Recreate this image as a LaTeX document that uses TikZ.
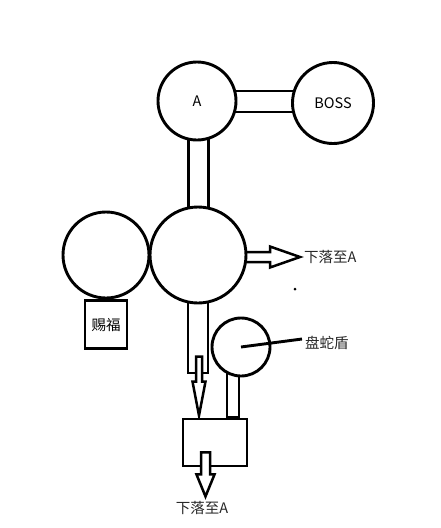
\documentclass[tikz,border=0pt]{standalone}
\usepackage{fontspec}
\setmainfont{Noto Sans CJK SC}
\usetikzlibrary{calc,backgrounds}
\tikzset{
  ln/.style={line width=2.9pt, draw=black},
  ball/.style={ln, circle, fill=white, inner sep=0pt, font=\fontsize{14.5}{16}\selectfont},
  boxnode/.style={ln, rectangle, fill=white, inner sep=0pt, font=\fontsize{14.5}{16}\selectfont},
  bar/.style={ln, fill=white},
  harrow/.style={line width=2.5pt, draw=black, fill=white, line join=miter},
  lbl/.style={inner sep=0pt, font=\fontsize{14.5}{16}\selectfont, text=black!85}
}
\begin{document}
\begin{tikzpicture}[x=1pt,y=-1pt]
\useasboundingbox (0,0) rectangle (440,528);
% nodes
\node[ball, minimum size=78] (A) at (197,101) {A};
\node[ball, minimum size=81] (BOSS) at (333,103) {BOSS};
\node[ball, minimum size=96] (big) at (198,255) {};
\node[ball, minimum size=86] (left) at (106,255) {};
\node[boxnode, minimum width=42, minimum height=48, anchor=north] (cifu) at (left.south) {赐福};
\node[ball, minimum size=58] (shield) at (241,347) {};
\node[boxnode, minimum width=64, minimum height=47] (box) at (215,442.5) {};
\node[lbl, anchor=west] (lblR) at (304,257) {下落至A};
\node[lbl, anchor=west] (lblS) at (305,343) {盘蛇盾};
\node[lbl] (lblB) at (202,508) {下落至A};
\fill (295,289) circle (1.5);
% connectors behind
\begin{pgfonlayer}{background}
\draw[bar] ($(A.center)+(0,-10)$) rectangle ($(BOSS.center)+(0,9)$);
\draw[bar] ($(A.center)+(-8.5,0)$) rectangle ($(big.center)+(10.5,0)$);
\draw[bar] ($(big.center)+(-10,0)$) rectangle ($(big.center)+(10,118)$);
% inner down arrow (tip at box top)
\coordinate (t1) at ($(box.north)+(-16,-2)$);
\draw[harrow] ($(t1)+(-3,-59)$) -- ($(t1)+(3,-59)$) -- ($(t1)+(3,-34)$) -- ($(t1)+(6.5,-34)$)
   -- (t1) -- ($(t1)+(-6.5,-34)$) -- ($(t1)+(-3,-34)$) -- cycle;
\draw[bar] ($(shield.center)+(-14,0)$) rectangle ($(box.north)+(24,0)$);
% right arrow
\coordinate (t2) at ($(lblR.west)+(-4,0)$);
\draw[harrow] ($(t2)+(-58,-5)$) -- ($(t2)+(-30,-5)$) -- ($(t2)+(-30,-10.5)$) -- (t2)
   -- ($(t2)+(-30,10.5)$) -- ($(t2)+(-30,5)$) -- ($(t2)+(-58,5)$) -- cycle;
\end{pgfonlayer}
% bottom arrow out of box
\coordinate (t3) at ($(box.south)+(-9.5,29)$);
\draw[harrow] ($(t3)+(-4.5,-44)$) -- ($(t3)+(4.5,-44)$) -- ($(t3)+(4.5,-22)$) -- ($(t3)+(9,-22)$)
   -- (t3) -- ($(t3)+(-9,-22)$) -- ($(t3)+(-4.5,-22)$) -- cycle;
% pointer line
\draw[ln] (shield.center) -- ($(lblS.west)+(-3,-4)$);
\end{tikzpicture}
\end{document}
